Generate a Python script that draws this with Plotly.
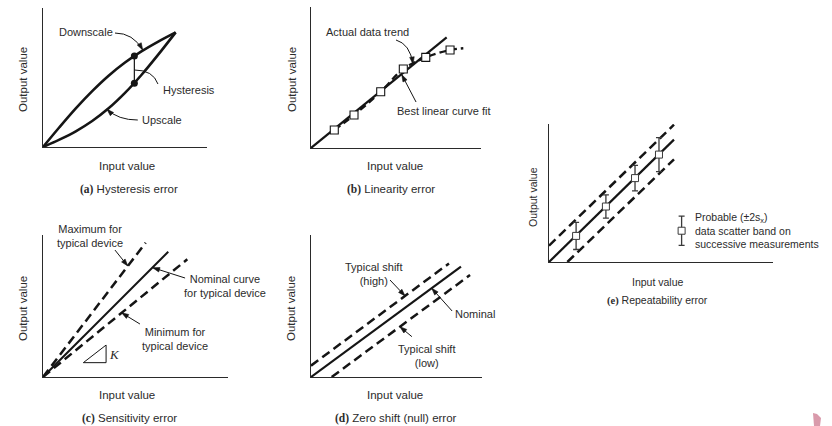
import math
import plotly.graph_objects as go

# ---------------------------------------------------------------- values
# (a) hysteresis: output along the two branches of the loop
hyst_input = [0, 1, 2, 3, 4, 5, 6, 7, 8.09]
hyst_downscale = [0, 1.42, 2.78, 4.02, 5.13, 6.08, 6.88, 7.57, 8.25]
hyst_upscale = [0, 0.53, 1.13, 1.87, 2.78, 3.89, 5.18, 6.61, 8.25]
hyst_probe_input = [5.57, 5.57]
hyst_probe_output = [4.58, 6.55]

# (b) linearity: measured points, their trend and the best straight line
lin_input = [1.37, 2.53, 4.10, 5.43, 6.75, 8.18]
lin_output = [1.28, 2.34, 3.99, 5.60, 6.43, 6.95]
lin_trend_input = [1.37, 2.53, 4.10, 5.43, 6.75, 8.18, 8.96]
lin_trend_output = [1.28, 2.34, 3.99, 5.60, 6.43, 6.95, 7.07]
lin_fit_input = [0, 7.98]
lin_fit_output = [0, 7.85]

# (c) sensitivity: nominal, maximum and minimum slope
sens_nominal_x = [0, 6.77]
sens_nominal_y = [0, 8.82]
sens_max_x = [0, 5.55]
sens_max_y = [0, 9.46]
sens_min_x = [0, 7.80]
sens_min_y = [0, 8.29]

# (d) zero shift: nominal line and the shifted ones
zero_nominal_x = [0, 8.77]
zero_nominal_y = [0, 7.77]
zero_high_x = [0, 8.07]
zero_high_y = [0.80, 8.00]
zero_low_x = [1.21, 9.30]
zero_low_y = [0, 7.18]

# (e) repeatability: nominal line, scatter band and repeated measurements
rep_nominal_x = [0, 5.58]
rep_nominal_y = [0, 9.00]
rep_upper_x = [0, 5.58]
rep_upper_y = [1.20, 10.10]
rep_lower_x = [0.82, 5.58]
rep_lower_y = [0, 7.55]
rep_input = [1.21, 2.54, 3.84, 4.91]
rep_output = [1.92, 4.08, 6.17, 7.90]
rep_scatter = [1.00, 0.86, 0.94, 1.25]
rep_key_x = [5.92]
rep_key_y = [2.30]
rep_key_err = [1.07]

# ---------------------------------------------------------------- layout
W, H = 832, 426
INK = "#151515"
TXT = "#2b2b2b"
SANS = "Liberation Sans, Arial, sans-serif"
SERIF = "Liberation Serif, Times New Roman, serif"

# frame of each panel in pixels: left, right, bottom, top
frames = {
    1: (43, 207, 147, 8),
    2: (311, 481, 148, 7),
    3: (43, 228, 377, 235),
    4: (311, 482, 377, 235),
    5: (549, 773, 262, 124),
}
yranges = {1: 10, 2: 10, 3: 10, 4: 10, 5: 10.15}

fig = go.Figure()


def ax(n):
    return ("x" if n == 1 else f"x{n}"), ("y" if n == 1 else f"y{n}")


def to_px(n, x, y):
    l, r, b, t = frames[n]
    return l + x * (r - l) / 10, b - y * (b - t) / yranges[n]


def to_data(n, px, py):
    l, r, b, t = frames[n]
    return (px - l) * 10 / (r - l), (b - py) * yranges[n] / (b - t)


def line(n, x, y, dash=None, width=2.3, shape="linear"):
    xa, ya = ax(n)
    fig.add_trace(go.Scatter(
        x=x, y=y, mode="lines", xaxis=xa, yaxis=ya, hoverinfo="skip",
        line=dict(color=INK, width=width, dash=dash, shape=shape,
                  smoothing=1.0 if shape == "spline" else None),
        showlegend=False))


def text(t, x, y, n=None, size=11, xanchor="center", angle=0, font=SANS,
         style="normal"):
    if n is None:
        xr, yr = "paper", "paper"
        x, y = x / W, 1 - y / H
    else:
        xr, yr = ax(n)
    fig.add_annotation(text=t, x=x, y=y, xref=xr, yref=yr, showarrow=False,
                       xanchor=xanchor, yanchor="middle", textangle=angle,
                       font=dict(family=font, size=size, color=TXT,
                                 style=style))


def arrowhead(n, tip, frm, length=7.0, half=2.3):
    """Filled arrowhead at `tip`, pointing away from `frm`."""
    tx, ty = to_px(n, *tip)
    fx, fy = to_px(n, *frm)
    d = math.hypot(tx - fx, ty - fy)
    ux, uy = (tx - fx) / d, (ty - fy) / d
    bx, by = tx - length * ux, ty - length * uy
    pts = [(tx, ty), (bx - half * uy, by + half * ux),
           (bx + half * uy, by - half * ux)]
    pts = [to_data(n, *p) for p in pts]
    xr, yr = ax(n)
    path = "M " + " L ".join(f"{p[0]:.4f},{p[1]:.4f}" for p in pts) + " Z"
    fig.add_shape(type="path", xref=xr, yref=yr, path=path,
                  line=dict(color=INK, width=0.6), fillcolor=INK)


def arrow(n, head, tail):
    xr, yr = ax(n)
    fig.add_shape(type="line", xref=xr, yref=yr, x0=tail[0], y0=tail[1],
                  x1=head[0], y1=head[1], line=dict(color=INK, width=1))
    arrowhead(n, head, tail)


def curve(n, p0, c, p1, head=False):
    xr, yr = ax(n)
    fig.add_shape(type="path", xref=xr, yref=yr,
                  path=f"M {p0[0]},{p0[1]} Q {c[0]},{c[1]} {p1[0]},{p1[1]}",
                  line=dict(color=INK, width=1))
    if head:
        arrowhead(n, p1, c)


def caption(letter, rest, x, y, size=11.5):
    text(f"<span style='font-family:{SERIF}'><b>({letter})</b></span> {rest}",
         x, y, size=size)


DASH = "9px,5px"

# (a) hysteresis loop
line(1, hyst_input, hyst_downscale, width=2.6, shape="spline")
line(1, hyst_input, hyst_upscale, width=2.6, shape="spline")
fig.add_trace(go.Scatter(
    x=hyst_probe_input, y=hyst_probe_output, mode="lines+markers",
    xaxis="x", yaxis="y", hoverinfo="skip", showlegend=False,
    line=dict(color=INK, width=1.2),
    marker=dict(symbol="circle", size=7, color=INK)))

# (b) linearity
line(2, lin_fit_input, lin_fit_output, width=2.2)
line(2, lin_trend_input, lin_trend_output, dash="7px,4px", width=2.4,
     shape="spline")
fig.add_trace(go.Scatter(
    x=lin_input, y=lin_output, mode="markers", xaxis="x2", yaxis="y2",
    hoverinfo="skip", showlegend=False,
    marker=dict(symbol="square", size=8, color="white",
                line=dict(color=INK, width=1.1))))

# (c) sensitivity
line(3, sens_max_x, sens_max_y, dash=DASH, width=2.5)
line(3, sens_nominal_x, sens_nominal_y, width=2.0)
line(3, sens_min_x, sens_min_y, dash=DASH, width=2.5)

# (d) zero shift
line(4, zero_high_x, zero_high_y, dash=DASH, width=2.5)
line(4, zero_nominal_x, zero_nominal_y, width=2.2)
line(4, zero_low_x, zero_low_y, dash=DASH, width=2.5)

# (e) repeatability
line(5, rep_upper_x, rep_upper_y, dash=DASH, width=2.5)
line(5, rep_nominal_x, rep_nominal_y, width=2.2)
line(5, rep_lower_x, rep_lower_y, dash=DASH, width=2.5)
for xs, ys, es in ((rep_input, rep_output, rep_scatter),
                   (rep_key_x, rep_key_y, rep_key_err)):
    fig.add_trace(go.Scatter(
        x=xs, y=ys, mode="markers", xaxis="x5", yaxis="y5",
        hoverinfo="skip", showlegend=False,
        error_y=dict(type="data", array=es, color="#3a3a3a",
                     thickness=1.3, width=3),
        marker=dict(symbol="square", size=7, color="white",
                    line=dict(color="#3a3a3a", width=1))))

# axes
for n, (l, r, b, t) in frames.items():
    xa, ya = ax(n)
    common = dict(showline=True, linecolor="#2a2a2a", linewidth=1.3,
                  showgrid=False, zeroline=False, showticklabels=False,
                  ticks="", mirror=False, fixedrange=True)
    fig.update_layout(**{
        ("xaxis" if n == 1 else f"xaxis{n}"): dict(
            domain=[l / W, r / W], range=[0, 10], anchor=ya, **common),
        ("yaxis" if n == 1 else f"yaxis{n}"): dict(
            domain=[1 - b / H, 1 - t / H], range=[0, yranges[n]],
            anchor=xa, **common),
    })

# ---------------------------------------------------------------- labels
# (a)
text("Output value", 23, 80, angle=-90, size=11.5)
text("Input value", 127, 166, size=11.5)
caption("a", "Hysteresis error", 129, 189)
text("Downscale", 2.62, 8.27, n=1)
curve(1, (4.39, 8.20), (5.49, 8.20), (6.08, 6.98), head=True)
text("Hysteresis", 7.18, 4.10, n=1, xanchor="left")
curve(1, (5.57, 5.54), (6.71, 5.54), (7.01, 4.53))
text("Upscale", 5.93, 1.94, n=1, xanchor="left")
curve(1, (5.78, 1.94), (4.57, 1.94), (3.90, 2.72), head=True)

# (b)
text("Output value", 292, 80, angle=-90, size=11.5)
text("Input value", 395, 166, size=11.5)
caption("b", "Linearity error", 391, 189)
text("Actual data trend", 3.35, 8.23, n=2)
curve(2, (5.00, 7.66), (5.82, 7.38), (6.00, 5.96), head=True)
text("Best linear curve fit", 7.82, 2.62, n=2)
arrow(2, (5.34, 5.20), (6.18, 3.26))

# (c)
text("Output value", 23, 309, angle=-90, size=11.5)
text("Input value", 127, 395, size=11.5)
caption("c", "Sensitivity error", 129, 418)
text("Maximum for<br>typical device", 2.54, 9.93, n=3)
arrow(3, (4.58, 7.82), (3.89, 8.94))
text("Nominal curve<br>for typical device", 9.84, 6.41, n=3)
arrow(3, (5.93, 7.70), (7.68, 6.97))
text("Minimum for<br>typical device", 7.14, 2.71, n=3)
arrow(3, (4.25, 4.52), (5.24, 3.73))
fig.add_shape(type="path", xref="x3", yref="y3",
              path="M 2.18,1.01 L 3.41,1.01 L 3.41,2.25 Z",
              line=dict(color=INK, width=1))
text("K", 3.84, 1.62, n=3, size=13, font=SERIF, style="italic")

# (d)
text("Output value", 291, 309, angle=-90, size=11.5)
text("Input value", 395, 395, size=11.5)
caption("d", "Zero shift (null) error", 396, 418)
text("Typical shift<br>(high)", 3.68, 7.25, n=4)
arrow(4, (5.50, 5.71), (4.62, 6.83))
text("Nominal", 8.28, 4.44, n=4, xanchor="left")
arrow(4, (7.06, 6.25), (8.25, 4.65))
text("Typical shift<br>(low)", 6.78, 1.48, n=4)
arrow(4, (5.20, 3.54), (5.90, 2.84))

# (e)
text("Output value", 533, 197, angle=-90, size=10.5)
text("Input value", 658, 282, size=10.5)
caption("e", "Repeatability error", 657, 300, size=10.5)
text("Probable (\u00b12s<sub>x</sub>)", 6.43, 3.21, n=5,
     xanchor="left", size=10.5)
text("data scatter band on", 6.43, 2.28, n=5, xanchor="left", size=10.5)
text("successive measurements", 6.43, 1.32, n=5, xanchor="left", size=10.5)

# small publisher mark in the corner
fig.add_shape(type="path", xref="paper", yref="paper",
              path=f"M {813/W},{1-413/H} L {817/W},{1-414/H} L {821/W},{1-418/H}"
                   f" L {820/W},{1-426/H} L {814/W},{1-426/H} Z",
              line=dict(width=0), fillcolor="#d99aab")

fig.update_layout(
    width=W, height=H, margin=dict(l=0, r=0, t=0, b=0),
    paper_bgcolor="white", plot_bgcolor="white", showlegend=False,
    font=dict(family=SANS, color=TXT),
)

fig.write_html("out.html")
